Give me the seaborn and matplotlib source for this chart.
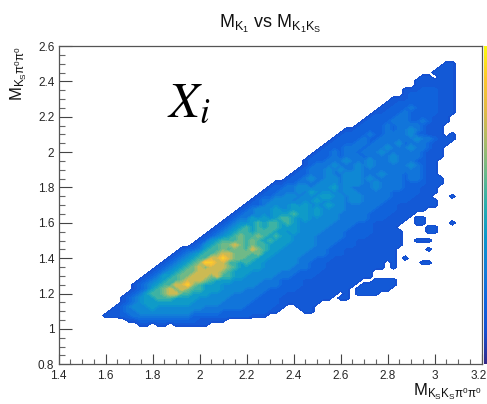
import numpy as np
import matplotlib
matplotlib.use("Agg")
import matplotlib.pyplot as plt
import matplotlib.transforms as mtrans
import seaborn as sns

# ---- data ----
x_ticks = [1.4, 1.6, 1.8, 2.0, 2.2, 2.4, 2.6, 2.8, 3.0, 3.2]
x_tick_labels = ["1.4", "1.6", "1.8", "2", "2.2", "2.4", "2.6", "2.8", "3", "3.2"]
y_ticks = [0.8, 1.0, 1.2, 1.4, 1.6, 1.8, 2.0, 2.2, 2.4, 2.6]
y_tick_labels = ["0.8", "1", "1.2", "1.4", "1.6", "1.8", "2", "2.2", "2.4", "2.6"]
x_bins = [1.5 + 0.025 * i for i in range(68)]
# height that each digit of the table below stands for
digit_levels = [0, 1, 1.6, 2.4, 3.3, 4, 5, 6, 7.5, 9]

# (y of the row, index of the first x bin, intensity per bin; bins not listed are empty)
density_rows = [
    (2.500, 62, "11"),
    (2.475, 61, "111"),
    (2.450, 60, "1111"),
    (2.425, 58, "110111"),
    (2.400, 57, "1111111"),
    (2.375, 57, "1111111"),
    (2.350, 55, "111222111"),
    (2.325, 55, "122222111"),
    (2.300, 53, "1112222211 1"),
    (2.275, 52, "1122222221 11"),
    (2.250, 51, "1122232222 111"),
    (2.225, 50, "1122232222 2111"),
    (2.200, 49, "1222233222 2111"),
    (2.175, 48, "1222233322 32111"),
    (2.150, 47, "1222232333 32111"),
    (2.125, 45, "1122222323 3432111"),
    (2.100, 44, "1222232233 3342211 101"),
    (2.075, 43, "1222232233 333343321 11"),
    (2.050, 42, "1222233233 3342333211 1"),
    (2.025, 41, "1222333233 3433343321 1"),
    (2.000, 40, "1223233233 3433333321 11"),
    (1.975, 39, "1222323332 3333433332 111"),
    (1.950, 38, "1222333433 3433343332 211"),
    (1.925, 38, "1233343334 3433333343 211"),
    (1.900, 37, "1233343433 4333333333 3211"),
    (1.875, 36, "1223334334 4433343332 33211"),
    (1.850, 35, "1223433443 4443433333 2332111"),
    (1.825, 33, "1122333344 4344433433 332222111"),
    (1.800, 32, "1223344344 4534333343 333222111"),
    (1.775, 31, "1223334354 4443443333 3322222111"),
    (1.750, 30, "1223344344 4554434433 3332222111 0001"),
    (1.725, 29, "1233444344 4544443443 3332222111 11"),
    (1.700, 28, "1223444454 5444544333 3332221111 111"),
    (1.675, 27, "1234445445 5545444433 3332222111 11"),
    (1.650, 26, "1233444555 6554544433 3332222111 1"),
    (1.625, 25, "1233545456 6545444443 3333222111 1011"),
    (1.600, 24, "1234456566 5654444443 3332221111 1001100001"),
    (1.575, 23, "1234565656 6555444443 3332222111 10000011"),
    (1.550, 22, "1234566566 6554544443 3332222211 111000011"),
    (1.525, 21, "1234567667 6565544443 3333222211 1111"),
    (1.500, 20, "1245666767 6565554444 3333222111 1111100111"),
    (1.475, 19, "1245677876 7665554444 4333222211 111111"),
    (1.450, 17, "1223566767 7687655444 4433322211 1111111000001"),
    (1.425, 16, "1234566788 7776755444 4433332221 11111111"),
    (1.400, 15, "1234566889 8776655444 4433322211 11111111101"),
    (1.375, 14, "1234567998 8665655444 4443322211 11111111010000 11"),
    (1.350, 13, "1234567878 8876555544 4443332221 11111111101"),
    (1.325, 12, "1234567788 8876555444 4433322221 11111111"),
    (1.300, 11, "1235567788 8786655444 4433322221 111111111"),
    (1.275, 10, "1234566788 8765554444 4333222211 11111111001111"),
    (1.250, 9, "1234566889 7655544444 4333322221 111111110111111"),
    (1.225, 9, "1235678787 6655544443 3332222211 11111110111111"),
    (1.200, 8, "1235667886 6555444433 3332222111 1111110101111"),
    (1.175, 7, "1234556665 5554444433 3332222111 111111011"),
    (1.150, 7, "1234555555 5544444333 3322222111 1111"),
    (1.125, 6, "1234445444 4444433333 3322222110 0111"),
    (1.100, 5, "1123344444 4444333332 2222222110 00011"),
    (1.075, 4, "1112233333 3333322222 22222111"),
    (1.050, 8, "1122222222 2211111"),
    (1.025, 10, "1101101111 11"),
]

title_text = r"$\mathrm{M_{K_1}}$ vs $\mathrm{M_{K_1K_S}}$"
xlabel_text = r"$\mathrm{M_{K_SK_S\pi^0\pi^0}}$"
ylabel_text = r"$\mathrm{M_{K_S\pi^0\pi^0}}$"
note_text = r"$X_i$"
palette_stops = ["#352a87", "#1550d0", "#0f66de", "#127fd8", "#0b98cc", "#2bafae",
                 "#6ab98a", "#aabb68", "#e2ba46", "#fdc72e", "#f9fb0e"]

y_bins = [2.525] + [r[0] for r in density_rows] + [1.0]
density = np.zeros((len(y_bins), len(x_bins)))
for k, (_, start, body) in enumerate(density_rows, start=1):
    vals = [digit_levels[int(c)] for c in body.replace(" ", "")]
    density[k, start:start + len(vals)] = vals

# ---- style ----
sns.set_theme(style="ticks")
plt.rcParams["font.family"] = ["Liberation Sans", "DejaVu Sans"]
plt.rcParams["mathtext.fontset"] = "custom"
plt.rcParams["mathtext.rm"] = "Liberation Sans"
plt.rcParams["mathtext.it"] = "Liberation Sans:italic"
plt.rcParams["mathtext.bf"] = "Liberation Sans:bold"
plt.rcParams["mathtext.fallback"] = "stixsans"

W, H = 487, 404
L, R, T, B = 58.5, 481.7, 46, 364.3
fig = plt.figure(figsize=(W / 100, H / 100), dpi=100, facecolor="white")
ax = fig.add_axes([L / W, 1 - B / H, (R - L) / W, (B - T) / H])
cmap = sns.blend_palette(palette_stops, as_cmap=True)

levels = np.arange(0.5, 10.01, 0.4)
ax.contourf(x_bins, y_bins, density, levels=levels, cmap=cmap, vmin=-0.4, vmax=10)

ax.set_xlim(1.4, 3.2)
ax.set_ylim(0.8, 2.6)
ax.set_xticks(x_ticks, x_tick_labels)
ax.set_yticks(y_ticks, y_tick_labels)
ax.set_xticks(np.arange(1.4, 3.2001, 0.05), minor=True)
ax.set_yticks(np.arange(0.8, 2.6001, 0.05), minor=True)
ax.tick_params(axis="x", which="major", direction="in", length=7, width=0.8, color="#444444", labelsize=8.5, pad=4)
ax.tick_params(axis="x", which="minor", direction="in", length=3.5, width=0.8, color="#666666")
ax.tick_params(axis="y", which="major", direction="in", length=9, width=0.8, color="#444444", labelsize=8.5, pad=3)
ax.tick_params(axis="y", which="minor", direction="in", length=4.5, width=0.8, color="#666666")
for s in ax.spines.values():
    s.set_color("#555555")
    s.set_linewidth(0.9)
# keep the last tick label inside the picture
last = ax.get_xticklabels()[-1]
last.set_transform(last.get_transform() + mtrans.ScaledTranslation(-3 / 100, 0, fig.dpi_scale_trans))

fig.text(270 / W, 1 - 24 / H, title_text, ha="center", va="center", fontsize=13, color="#111111")
fig.text(482 / W, 1 - 392 / H, xlabel_text, ha="right", va="center", fontsize=12, color="#111111")
fig.text(19 / W, 1 - 46 / H, ylabel_text, ha="center", va="top", rotation=90, fontsize=12, color="#111111")
ax.text((167 - L) / (R - L), (B - 116) / (B - T), note_text, transform=ax.transAxes, ha="left", va="baseline",
        fontsize=36, color="black", math_fontfamily="stix")

# palette strip at the right edge
cax = fig.add_axes([484 / W, 1 - B / H, 3 / W, (B - T) / H])
strip = np.linspace(1, 0, 256).reshape(-1, 1)
sns.heatmap(strip, ax=cax, cmap=cmap, cbar=False, xticklabels=False, yticklabels=False, vmin=0, vmax=1)

fig.savefig("out.png", dpi=100)
